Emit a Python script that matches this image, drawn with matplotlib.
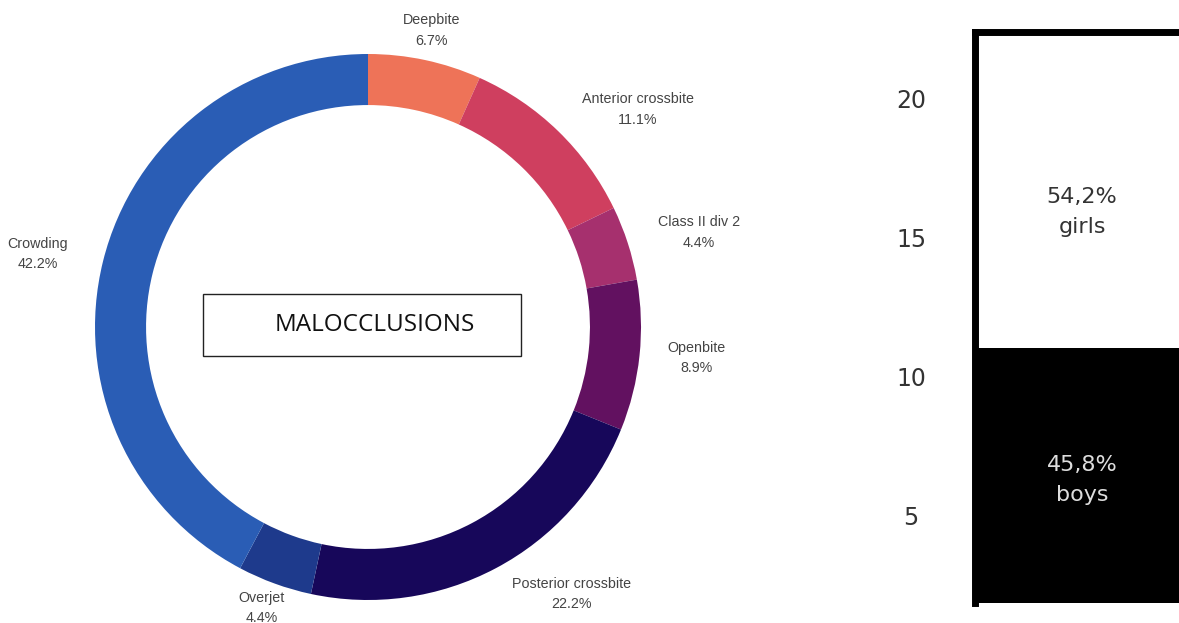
import matplotlib.pyplot as plt
import numpy as np
from matplotlib.patches import Rectangle

# Malocclusion shares (%), clockwise from 12 o'clock
categorias = ['Deepbite', 'Anterior crossbite', 'Class II div 2', 'Openbite',
              'Posterior crossbite', 'Overjet', 'Crowding']
percentuais = [6.7, 11.1, 4.4, 8.9, 22.2, 4.4, 42.2]
cores = ['#ee7358', '#cf3f5f', '#a6306e', '#621160', '#17075a', '#1e3a8c', '#2a5db5']
# label placement: distance from centre (ring radius units) and angular nudge (deg, clockwise)
dist_rotulos = [1.11, 1.27, 1.26, 1.21, 1.23, 1.10, 1.24]
desvio_rotulos = [0, 7, 2, -0.7, -9.4, 0.7, -1.5]

# Sex distribution (counts)
grupos = ['boys', 'girls']
contagens = [11, 13]
rotulos_sexo = ['45,8%', '54,2%']
ticks_y = [5, 10, 15, 20]

fig = plt.figure(figsize=(11.79, 6.23), dpi=100)

# --- donut ---
W, H = 1179, 623
cx, cy, r = 368, 327, 273
ax = fig.add_axes([(cx - r) / W, (H - cy - r) / H, 2 * r / W, 2 * r / H])
wedges, _ = ax.pie(percentuais, colors=cores, startangle=90, counterclock=False,
                   radius=1, wedgeprops=dict(width=0.187, edgecolor='none'))
ax.set_xlim(-1, 1)
ax.set_ylim(-1, 1)
ax.set_aspect('equal')
ax.axis('off')

for w, nome, p, d, dv in zip(wedges, categorias, percentuais, dist_rotulos, desvio_rotulos):
    ang = np.deg2rad((w.theta1 + w.theta2) / 2 - dv)
    x, y = d * np.cos(ang), d * np.sin(ang)
    ax.text(x, y, f'{nome}\n{p}%', ha='center', va='center', fontsize=10.3,
            color='#444444', family='Liberation Sans', linespacing=1.58,
            clip_on=False)

# centre title box
fig.patches.append(Rectangle((203 / W, (H - 356) / H), 318 / W, 62 / H,
                             transform=fig.transFigure, fill=False,
                             edgecolor='#222222', linewidth=1))
fig.text(375 / W, (H - 325) / H, 'MALOCCLUSIONS', ha='center', va='center',
         fontsize=17.5, family='Open Sans', color='#111111')

# --- stacked bar, boys / girls ---
ax2 = fig.add_axes([975 / W, (H - 603) / H, 220 / W, 571 / H])
ax2.bar(0.5, contagens[0], width=1, color='black', bottom=0)
ax2.bar(0.5, contagens[1], width=1, color='white', bottom=contagens[0])
ax2.set_xlim(0, 1)
ax2.set_ylim(1.84, 22.38)
ax2.set_xticks([])
ax2.set_yticks(ticks_y)
ax2.set_yticklabels([str(t) for t in ticks_y], fontsize=17, color='#333333',
                    family='DejaVu Sans')
ax2.tick_params(axis='y', length=0, pad=46, labelleft=True)
for lbl in ax2.get_yticklabels():
    lbl.set_horizontalalignment('center')
for s in ['top', 'left', 'right']:
    ax2.spines[s].set_linewidth(5)
    ax2.spines[s].set_color('black')
ax2.spines['bottom'].set_visible(False)

ax2.text(0.487, 6.27, f'{rotulos_sexo[0]}\n{grupos[0]}',
         ha='center', va='center', fontsize=16, color='#dddddd',
         family='DejaVu Sans', linespacing=1.6)
ax2.text(0.487, 15.9, f'{rotulos_sexo[1]}\n{grupos[1]}',
         ha='center', va='center', fontsize=16, color='#333333',
         family='DejaVu Sans', linespacing=1.6)

fig.savefig('out.png', dpi=100, facecolor='white')
